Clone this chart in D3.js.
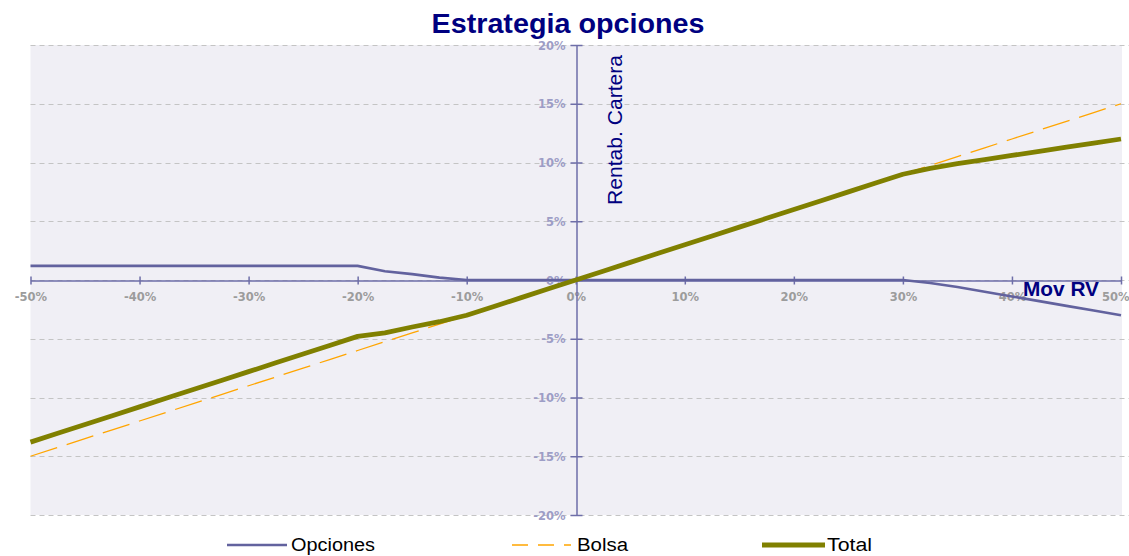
<!DOCTYPE html>
<html><head><meta charset="utf-8">
<script src="https://cdn.jsdelivr.net/npm/d3@7"></script>
<style>html,body{margin:0;padding:0;background:#fff;}svg{display:block;}</style>
</head><body>
<svg id="chart" width="1129" height="556"></svg>
<script>
const movRV = [-50,-47.5,-45,-42.5,-40,-37.5,-35,-32.5,-30,-27.5,-25,-22.5,-20,-17.5,-15,-12.5,-10,-7.5,-5,-2.5,0,2.5,5,7.5,10,12.5,15,17.5,20,22.5,25,27.5,30,32.5,35,37.5,40,42.5,45,47.5,50];
const opciones = [1.2,1.2,1.2,1.2,1.2,1.2,1.2,1.2,1.2,1.2,1.2,1.2,1.2,0.75,0.5,0.2,0,0,0,0,0,0,0,0,0,0,0,0,0,0,0,0,0,-0.25,-0.6,-1.0,-1.4,-1.8,-2.2,-2.6,-3.0];
const bolsa = [-15,-14.25,-13.5,-12.75,-12,-11.25,-10.5,-9.75,-9,-8.25,-7.5,-6.75,-6,-5.25,-4.5,-3.75,-3,-2.25,-1.5,-0.75,0,0.75,1.5,2.25,3,3.75,4.5,5.25,6,6.75,7.5,8.25,9,9.75,10.5,11.25,12,12.75,13.5,14.25,15];
const total = [-13.8,-13.05,-12.3,-11.55,-10.8,-10.05,-9.3,-8.55,-7.8,-7.05,-6.3,-5.55,-4.8,-4.5,-4.0,-3.55,-3,-2.25,-1.5,-0.75,0,0.75,1.5,2.25,3,3.75,4.5,5.25,6,6.75,7.5,8.25,9,9.5,9.9,10.25,10.6,10.95,11.3,11.65,12];
const xTicks = [-50,-40,-30,-20,-10,0,10,20,30,40,50];
const yTicks = [-20,-15,-10,-5,0,5,10,15,20];
const seriesNames = ["Opciones","Bolsa","Total"];

const svg = d3.select("#chart");
const x = d3.scaleLinear().domain([-50,50]).range([30.5,1121]);
const y = d3.scaleLinear().domain([-20,20]).range([515,45]);

svg.append("rect").attr("x",x(-50)).attr("y",y(20)).attr("width",x(50)-x(-50)+1).attr("height",y(-20)-y(20))
  .attr("fill","#f0eff5");

svg.append("g").selectAll("line").data(yTicks).join("line")
  .attr("x1",x(-50)).attr("x2",1129)
  .attr("y1",d=>Math.round(y(d))+0.5).attr("y2",d=>Math.round(y(d))+0.5)
  .attr("stroke","#c4c4c4").attr("stroke-width",1).attr("stroke-dasharray","5,4");

const axisColor = "#6e6ea8";
const tickFont = "DejaVu Sans, Verdana, sans-serif";
const xAxis = d3.axisBottom(x).tickValues(xTicks).tickSize(0).tickFormat(d=>d+"%");
const gx = svg.append("g").attr("transform",`translate(0,${Math.round(y(0))+0.5})`).call(xAxis);
gx.select(".domain").attr("stroke",axisColor).attr("stroke-width",1.5);
gx.selectAll(".tick text").attr("fill","#9c9c9c").attr("font-family",tickFont)
  .attr("font-weight","bold").attr("font-size","11.5px").attr("dy","0").attr("y",20);
gx.selectAll(".tick").filter(d=>d===50).select("text").attr("text-anchor","end").attr("x",8);
gx.selectAll(".tick").append("line").attr("y1",-4).attr("y2",4).attr("stroke",axisColor).attr("stroke-width",1.5);

const yAxis = d3.axisLeft(y).tickValues(yTicks).tickSize(0).tickFormat(d=>d+"%");
const gy = svg.append("g").attr("transform",`translate(${Math.round(x(0))+0.5},0)`).call(yAxis);
gy.select(".domain").attr("stroke",axisColor).attr("stroke-width",1.5);
gy.selectAll(".tick text").attr("fill","#9d9dc6").attr("font-family",tickFont)
  .attr("font-weight","bold").attr("font-size","11.5px").attr("x",-11).attr("dy","0.35em");
gy.selectAll(".tick").append("line").attr("x1",-6).attr("x2",6).attr("stroke",axisColor).attr("stroke-width",1.5);

const line = d3.line().x((d,i)=>x(movRV[i])).y(d=>y(d));
const colors = {Opciones:"#62629e", Bolsa:"#ffa500", Total:"#808000"};

svg.append("path").datum(opciones).attr("d",line).attr("fill","none")
  .attr("stroke",colors.Opciones).attr("stroke-width",2.6);
svg.append("path").datum(bolsa).attr("d",line).attr("fill","none")
  .attr("stroke",colors.Bolsa).attr("stroke-width",1.3).attr("stroke-dasharray","28,10");
svg.append("path").datum(total).attr("d",line).attr("fill","none")
  .attr("stroke",colors.Total).attr("stroke-width",4.8).attr("stroke-linejoin","round");

svg.append("text").attr("x",568).attr("y",33).attr("text-anchor","middle")
  .attr("font-family","Liberation Sans, Arial, sans-serif").attr("font-weight","bold")
  .attr("font-size","27px").attr("fill","#000080")
  .attr("textLength",273).attr("lengthAdjust","spacingAndGlyphs")
  .text("Estrategia opciones");

svg.append("text").attr("transform","translate(622,205) rotate(-90)")
  .attr("font-family","Liberation Sans Narrow, Liberation Sans, Arial, sans-serif").attr("font-size","20px")
  .attr("fill","#000080").attr("textLength",150).attr("lengthAdjust","spacingAndGlyphs")
  .text("Rentab. Cartera");
svg.append("text").attr("x",1023).attr("y",296)
  .attr("font-family","Liberation Sans, Arial, sans-serif").attr("font-weight","bold").attr("font-size","21px")
  .attr("fill","#000080").attr("textLength",76).attr("lengthAdjust","spacingAndGlyphs")
  .text("Mov RV");

const legendItems = [
  {name:seriesNames[0], x1:227, x2:287, tx:291, tw:84, dash:null, w:2.6},
  {name:seriesNames[1], x1:512, x2:571, tx:577, tw:51, dash:"16,10", w:1.3},
  {name:seriesNames[2], x1:762, x2:825, tx:827, tw:45, dash:null, w:4.8}
];
const lg = svg.append("g");
legendItems.forEach(it=>{
  lg.append("line").attr("x1",it.x1).attr("x2",it.x2).attr("y1",545).attr("y2",545)
    .attr("stroke",colors[it.name]).attr("stroke-width",it.w).attr("stroke-dasharray",it.dash);
  lg.append("text").attr("x",it.tx).attr("y",551)
    .attr("font-family","Liberation Sans Narrow, Arial Narrow, Liberation Sans, sans-serif").attr("font-size","18px")
    .attr("fill","#000").attr("textLength",it.tw).attr("lengthAdjust","spacingAndGlyphs")
    .text(it.name);
});
</script>
</body></html>
